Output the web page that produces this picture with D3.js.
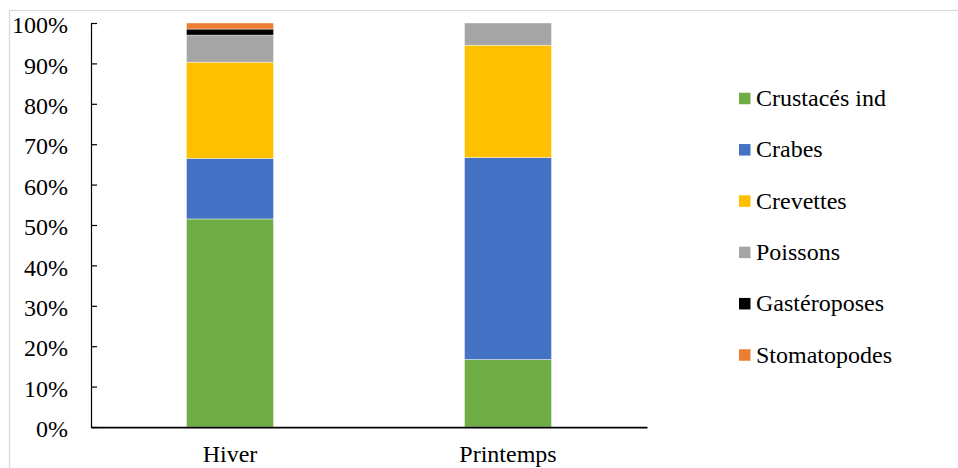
<!DOCTYPE html>
<html>
<head>
<meta charset="utf-8">
<script src="https://cdn.jsdelivr.net/npm/d3@7"></script>
<style>
  html, body { margin: 0; padding: 0; background: #fff; }
  svg { display: block; }
</style>
</head>
<body>
<svg id="chart" width="958" height="468"></svg>
<script>
// Seasons on the x axis
const categories = ["Hiver", "Printemps"];

// Share of each prey group per season (%)
const crustacesInd = [51.5, 16.7];
const crabes       = [15.0, 50.0];
const crevettes    = [23.8, 27.8];
const poissons     = [6.7, 5.5];
const gasteroposes = [1.5, 0];
const stomatopodes = [1.5, 0];

const seriesNames  = ["Crustacés ind", "Crabes", "Crevettes", "Poissons", "Gastéroposes", "Stomatopodes"];
const seriesValues = [crustacesInd, crabes, crevettes, poissons, gasteroposes, stomatopodes];
const seriesColors = ["#70AD47", "#4472C4", "#FFC000", "#A5A5A5", "#000000", "#ED7D31"];

const yTicks = [0, 10, 20, 30, 40, 50, 60, 70, 80, 90, 100];

const FONT = "'Liberation Serif', 'Times New Roman', serif";

// Rows for d3.stack
const rows = categories.map((c, i) => {
  const r = { category: c };
  seriesNames.forEach((s, j) => { r[s] = seriesValues[j][i]; });
  return r;
});

const svg = d3.select("#chart");

// Outer chart frame (only its top and left edges fall inside the view)
svg.append("rect")
  .attr("x", 9.5).attr("y", 10.5)
  .attr("width", 1000).attr("height", 500)
  .attr("fill", "none")
  .attr("stroke", "#d9d9d9")
  .attr("stroke-width", 1.25);

const plot = { left: 91, right: 647, top: 23, bottom: 427 };

const x = d3.scaleBand().domain(categories).range([plot.left, plot.right]).padding(0);
const y = d3.scaleLinear().domain([0, 100]).range([plot.bottom, plot.top]);
const color = d3.scaleOrdinal().domain(seriesNames).range(seriesColors);

const barWidth = x.bandwidth() * 0.313;

const stacked = d3.stack().keys(seriesNames)(rows);

// Stacked bars
svg.append("g").selectAll("g")
  .data(stacked)
  .join("g")
  .attr("fill", d => color(d.key))
  .selectAll("rect")
  .data(d => d.filter(p => p[1] - p[0] > 0))
  .join("rect")
  .attr("x", d => x(d.data.category) + (x.bandwidth() - barWidth) / 2)
  .attr("y", d => y(d[1]))
  .attr("width", barWidth)
  .attr("height", d => y(d[0]) - y(d[1]))
  .attr("stroke", "rgba(255,255,255,0.55)")
  .attr("stroke-width", 0.75);

// Y axis: ticks point inward, labels at left
const yAxis = d3.axisLeft(y)
  .tickValues(yTicks)
  .tickFormat(d => d + "%")
  .tickSizeInner(-6)
  .tickSizeOuter(0)
  .tickPadding(23);

const gy = svg.append("g")
  .attr("transform", `translate(${plot.left},0)`)
  .call(yAxis);
gy.select(".domain").attr("stroke", "#000").attr("stroke-width", 1.2);
gy.selectAll(".tick line").attr("stroke", "#000").attr("stroke-width", 1.2);
gy.selectAll(".tick text")
  .style("font-family", FONT)
  .style("font-size", "24px")
  .attr("fill", "#000")
  .attr("dy", "0.4em");

// X axis: baseline and category labels
const xAxis = d3.axisBottom(x).tickSize(0).tickSizeOuter(0).tickPadding(18);
const gx = svg.append("g")
  .attr("transform", `translate(0,${plot.bottom})`)
  .call(xAxis);
gx.select(".domain").attr("stroke", "#000").attr("stroke-width", 1.75);
gx.selectAll(".tick text")
  .style("font-family", FONT)
  .style("font-size", "24px")
  .attr("fill", "#000");

// Legend on the right
const legendY = d3.scalePoint().domain(seriesNames).range([98.5, 355]);
const legend = svg.append("g").selectAll("g")
  .data(seriesNames)
  .join("g")
  .attr("transform", d => `translate(739,${legendY(d)})`);

legend.append("rect")
  .attr("x", 0).attr("y", -5.75)
  .attr("width", 11.5).attr("height", 11.5)
  .attr("fill", d => color(d));

legend.append("text")
  .attr("x", 17)
  .attr("y", 7.5)
  .style("font-family", FONT)
  .style("font-size", "24px")
  .attr("fill", "#000")
  .text(d => d);
</script>
</body>
</html>
